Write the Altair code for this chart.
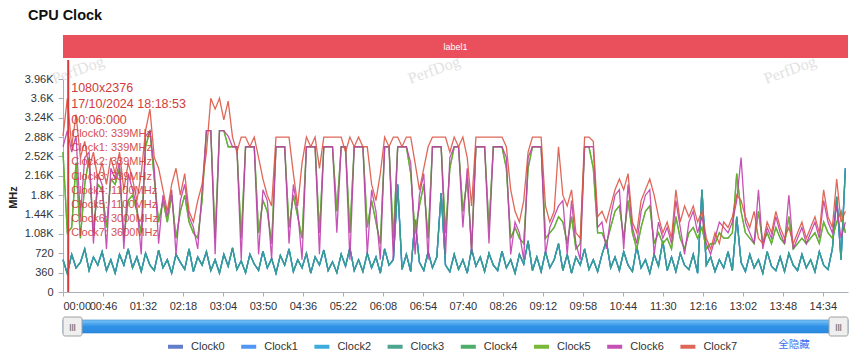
import altair as alt
import pandas as pd

# ---------------- data (5 s sampling) ----------------
T_STEP = 5
SERIES = ["Clock0", "Clock1", "Clock2", "Clock3", "Clock4", "Clock5", "Clock6", "Clock7"]
COLORS = ["#5470c6", "#3d8bf5", "#27a4da", "#3a9c84", "#3ca55d", "#6ab322", "#c03fae", "#dc5746"]

# little cores (Clock0-3 share one cluster frequency)
LITTLE = [
    600, 339, 700, 450, 550, 800, 400, 650, 500, 750,
    400, 600, 350, 700, 500, 800, 450, 650, 380, 720,
    500, 400, 780, 450, 600, 350, 700, 550, 420, 800,
    380, 650, 500, 750, 400, 600, 350, 700, 480, 820,
    420, 580, 360, 700, 520, 400, 760, 450, 620, 350,
    680, 500, 800, 380, 600, 450, 720, 350, 650, 500,
    780, 400, 560, 360, 700, 480, 820, 400, 600, 380,
    720, 450, 650, 350, 800, 500, 600, 2000, 420, 700,
    380, 1340, 550, 400, 750, 450, 650, 1840, 500, 380,
    700, 420, 600, 350, 800, 480, 650, 380, 720, 500,
    400, 760, 450, 600, 350, 700, 520, 950, 400, 650,
    380, 750, 450, 600, 900, 400, 700, 350, 650, 500,
    800, 420, 600, 380, 700, 950, 450, 650, 400, 750,
    500, 380, 850, 450, 600, 350, 700, 480, 950, 400,
    650, 380, 720, 500, 420, 700, 350, 1900, 500, 650,
    380, 600, 450, 750, 400, 1400, 550, 380, 700, 450,
    600, 350, 750, 480, 400, 650, 380, 720, 500, 400,
    700, 450, 600, 380, 750, 500, 420, 800, 1770, 600,
    2300,
]
# mid cores (Clock4-5 share one cluster frequency)
MID = [
    2600, 1100, 1200, 2400, 1000, 2000, 2500, 1100, 2000, 1900,
    1200, 2100, 2000, 2300, 1000, 1700, 1800, 1500, 1100, 2700,
    3000, 2100, 1300, 1700, 1300, 1800, 1000, 1500, 1800, 1300,
    1100, 1000, 1700, 3000, 3000, 1000, 3000, 3000, 2700, 2700,
    2700, 1000, 2700, 2700, 2700, 1100, 1700, 1500, 900, 2700,
    2700, 2700, 1200, 1800, 1400, 1000, 2700, 2700, 2700, 1100,
    2700, 2700, 2700, 1500, 2700, 2700, 1100, 2700, 2700, 2700,
    1200, 1700, 1300, 900, 2700, 2700, 1000, 2700, 2700, 2700,
    2200, 1100, 1600, 2000, 1000, 2700, 2700, 2700, 1100, 2300,
    2700, 2700, 1500, 2100, 800, 2700, 2700, 2700, 1200, 2700,
    2700, 2700, 2300, 1000, 1200, 1000, 900, 2300, 2700, 2700,
    2700, 1000, 1100, 1200, 1400, 1300, 900, 1400, 800, 900,
    2700, 2700, 2300, 1100, 1100, 900, 1200, 1500, 1600, 1000,
    1700, 1100, 800, 1200, 1500, 1600, 900, 1100, 900, 1000,
    800, 1400, 1000, 800, 1100, 1200, 1000, 1200, 800, 900,
    900, 1100, 1000, 1000, 1100, 2200, 1500, 1100, 1000, 900,
    1500, 900, 1100, 900, 1200, 1000, 900, 1400, 800, 900,
    1000, 900, 1000, 1100, 900, 1300, 1100, 1000, 1300, 1500,
    1100,
]
# big core (Clock6)
BIG = [
    2700, 3000, 2600, 2900, 1400, 2500, 2600, 900, 2200, 2000,
    800, 2300, 2100, 2400, 800, 2200, 1900, 1600, 700, 2900,
    3000, 2300, 900, 1800, 1400, 1900, 700, 1700, 2000, 1400,
    1200, 800, 1900, 3000, 3000, 700, 3000, 3000, 2900, 2700,
    2700, 600, 2700, 2700, 2700, 700, 1900, 1700, 600, 2700,
    2700, 2700, 900, 2000, 1500, 600, 2700, 2700, 2700, 700,
    2700, 2700, 2700, 1100, 2700, 2700, 600, 2700, 2700, 2700,
    700, 1900, 1500, 600, 2700, 2700, 600, 2700, 2700, 2700,
    2400, 700, 1800, 2200, 600, 2700, 2700, 2700, 700, 2500,
    2700, 2700, 1200, 2300, 700, 2700, 2700, 2700, 900, 2700,
    2700, 2700, 2500, 700, 1300, 1100, 600, 2500, 2700, 2700,
    2700, 700, 1200, 1400, 1600, 1700, 700, 1700, 900, 600,
    2700, 2700, 2700, 1200, 1300, 800, 1400, 1800, 1900, 800,
    2000, 1200, 900, 1500, 1800, 1900, 700, 1300, 1000, 1200,
    900, 1700, 1200, 700, 1300, 1500, 1100, 1400, 900, 700,
    1000, 1300, 1200, 1100, 1300, 1700, 2500, 1300, 1100, 900,
    1900, 800, 1200, 1000, 1400, 1100, 900, 1800, 800, 1000,
    1200, 900, 1100, 1300, 1000, 1700, 1300, 1100, 1600, 1000,
    1300,
]
# prime core (Clock7)
PRIME = [
    2900, 3600, 2700, 3300, 2500, 2800, 2300, 2600, 2100, 2400,
    2000, 2500, 2200, 2600, 1900, 2400, 2100, 1700, 2200, 3000,
    3400, 2500, 2300, 1900, 1500, 2000, 2300, 1800, 2200, 1500,
    1300, 1700, 2000, 2600, 3600, 3400, 3600, 3200, 3550, 2880,
    2600, 2880, 2880, 2700, 2880, 2500, 2100, 1800, 1600, 2880,
    2880, 2880, 2880, 2200, 1600, 2400, 2880, 2700, 2880, 2300,
    2880, 2880, 2880, 2880, 2880, 2600, 2880, 2700, 2880, 2700,
    2700, 2000, 1700, 2200, 2880, 2700, 2880, 2880, 2700, 2880,
    2880, 2400, 1900, 2300, 2700, 2880, 2880, 2880, 2880, 2600,
    2880, 2700, 2880, 2500, 1600, 2880, 2880, 2880, 2880, 2880,
    2880, 2880, 2700, 1900, 1500, 1300, 1700, 2600, 2880, 2880,
    2880, 1600, 1300, 1500, 2700, 1800, 1600, 1900, 1100, 1000,
    2880, 2880, 2800, 1400, 1500, 1300, 1600, 1900, 2100, 1900,
    2200, 1300, 1100, 1700, 1900, 2100, 1800, 1400, 1100, 1300,
    1000, 1900, 1300, 1600, 1400, 1600, 1300, 1500, 1000, 800,
    1100, 900, 1300, 1200, 1400, 1800, 1700, 1400, 1200, 1500,
    1000, 900, 1300, 1100, 1500, 1200, 1000, 1200, 900, 1100,
    1300, 1000, 1200, 1400, 1100, 1900, 1400, 1200, 2100, 1300,
    1500,
]
assert len(LITTLE) == len(MID) == len(BIG) == len(PRIME) == 181

X_TICKS = [0, 46, 92, 138, 184, 230, 276, 322, 368, 414, 460, 506, 552,
           598, 644, 690, 736, 782, 828, 874]
Y_TICKS = [0, 360, 720, 1080, 1440, 1800, 2160, 2520, 2880, 3240, 3600, 3960]
T_END = 903

MARK_T = 6
MARK_HEAD = ["1080x2376", "17/10/2024 18:18:53", "00:06:000"]
MARK_CLOCKS = ["Clock0: 339MHz", "Clock1: 339MHz", "Clock2: 339MHz", "Clock3: 339MHz",
               "Clock4: 1100MHz", "Clock5: 1100MHz", "Clock6: 3000MHz", "Clock7: 3600MHz"]

SOURCE = {"Clock0": LITTLE, "Clock1": LITTLE, "Clock2": LITTLE, "Clock3": LITTLE,
          "Clock4": MID, "Clock5": MID, "Clock6": BIG, "Clock7": PRIME}

rows = []
for name in SERIES:
    for i, v in enumerate(SOURCE[name]):
        rows.append({"t": i * T_STEP, "MHz": v, "series": name})
df = pd.DataFrame(rows)

FONT = "Liberation Sans"
W, H = 785, 213

x_enc = alt.X(
    "t:Q",
    scale=alt.Scale(domain=[0, T_END], nice=False, zero=False),
    axis=alt.Axis(
        values=X_TICKS, title=None, grid=False, labelFlush=True, labelOverlap=False,
        labelExpr="(datum.value < 600 ? '0' : '') + floor(datum.value / 60) + ':' + "
                  "(datum.value % 60 < 10 ? '0' : '') + (datum.value % 60)",
        tickSize=4, labelPadding=4,
    ),
)
y_enc = alt.Y(
    "MHz:Q",
    scale=alt.Scale(domain=[0, 3960], nice=False),
    axis=alt.Axis(
        values=Y_TICKS, title="MHz", grid=False, tickSize=5, labelPadding=5,
        labelExpr="datum.value >= 1000 ? format(datum.value / 1000, '~g') + 'K' : datum.label",
        titleX=-50, titleY=118, titleBaseline="middle", titleAlign="center",
        titleFontWeight="bold", titleFontSize=11, titleColor="#222",
    ),
)

lines = alt.Chart(df).mark_line(strokeWidth=1.3, opacity=0.9).encode(
    x=x_enc,
    y=y_enc,
    color=alt.Color(
        "series:N",
        scale=alt.Scale(domain=SERIES, range=COLORS),
        legend=alt.Legend(
            title=None, orient="none", legendX=103, legendY=258,
            direction="horizontal", columns=8, columnPadding=8.2,
            symbolType="stroke", symbolStrokeWidth=4, symbolSize=225,
            labelFontSize=11, labelColor="#333", labelOffset=6, labelFont=FONT,
        ),
    ),
)

one = pd.DataFrame({"k": [0]})

watermark = alt.Chart(pd.DataFrame({"w": ["PerfDog", "PerfDog", "PerfDog"],
                                    "px": [15, 371, 727]})).mark_text(
    font="Liberation Serif", fontSize=16, color="#e2e2e2", angle=340
).encode(x=alt.X("px:Q", scale=None), y=alt.value(-9), text="w:N")

band_df = pd.DataFrame({"start": [0], "end": [T_END], "label": ["label1"]})
band = alt.Chart(band_df).mark_rect(color="#e9505c").encode(
    x="start:Q", x2="end:Q", y=alt.value(-44), y2=alt.value(-21)
)
band_text = alt.Chart(band_df).mark_text(color="white", fontSize=9, font=FONT).encode(
    x=alt.value(W / 2), y=alt.value(-32), text="label:N"
)

mark_df = pd.DataFrame({"t": [MARK_T]})
mark_rule = alt.Chart(mark_df).mark_rule(color="#d9393b", strokeWidth=2).encode(
    x="t:Q", y=alt.value(-19), y2=alt.value(H)
)
mark_head = alt.Chart(mark_df).mark_text(
    text=MARK_HEAD, align="left", baseline="middle", fontSize=12.5, lineHeight=16,
    color="#d23c3c", font=FONT
).encode(x="t:Q", y=alt.value(9.3), xOffset=alt.value(3))
mark_clocks = alt.Chart(mark_df).mark_text(
    text=MARK_CLOCKS, align="left", baseline="middle", fontSize=11, lineHeight=14.2,
    color="#d23c3c", font=FONT, opacity=0.9
).encode(x="t:Q", y=alt.value(55), xOffset=alt.value(3))

title = alt.Chart(one).mark_text(
    text="CPU Clock", align="left", baseline="alphabetic", fontSize=14.5,
    fontWeight="bold", color="#111", font=FONT
).encode(x=alt.value(-35), y=alt.value(-59))

grad = alt.LinearGradient(
    gradient="linear", x1=0, x2=0, y1=0, y2=1,
    stops=[alt.GradientStop(color="#7cc4f8", offset=0),
           alt.GradientStop(color="#2f92e6", offset=0.5),
           alt.GradientStop(color="#2a8ae0", offset=1)],
)
slider_bar = alt.Chart(one).mark_rect(color=grad, stroke="#2a7fcf", strokeWidth=0.6).encode(
    x=alt.value(0), x2=alt.value(W), y=alt.value(241), y2=alt.value(254)
)
handles_df = pd.DataFrame({"hx": [0, W - 19]})
handles = alt.Chart(handles_df).mark_rect(
    color="#efefef", stroke="#a0a0a0", strokeWidth=1, cornerRadius=2
).encode(
    x=alt.X("hx:Q", scale=None), x2=alt.X2("hx2:Q"), y=alt.value(238), y2=alt.value(257)
).transform_calculate(hx2="datum.hx + 19")
handle_grip = alt.Chart(handles_df).mark_text(
    text="|||", fontSize=8, color="#777", font=FONT, fontWeight="bold"
).encode(x=alt.X("gx:Q", scale=None), y=alt.value(248)).transform_calculate(gx="datum.hx + 9.5")

hide_all = alt.Chart(one).mark_text(
    text="全隐藏", fontSize=10.5, color="#3d6ef2", font="Noto Sans CJK SC", align="center",
    baseline="middle"
).encode(x=alt.value(731), y=alt.value(266))

chart = alt.layer(
    watermark, band, band_text, lines, mark_rule, mark_head, mark_clocks, title,
    slider_bar, handles, handle_grip, hide_all
).resolve_scale(x="shared").properties(
    width=W, height=H,
    autosize=alt.AutoSizeParams(type="none"),
    padding={"left": 55, "top": 71, "right": 12, "bottom": 60},
).configure_view(stroke=None).configure_axis(
    labelFont=FONT, titleFont=FONT, labelFontSize=11, labelColor="#333",
    domainColor="#a9adb6", tickColor="#a9adb6",
).configure_text(font=FONT)

chart.save("out.html", embed_options={"renderer": "svg", "actions": False})
